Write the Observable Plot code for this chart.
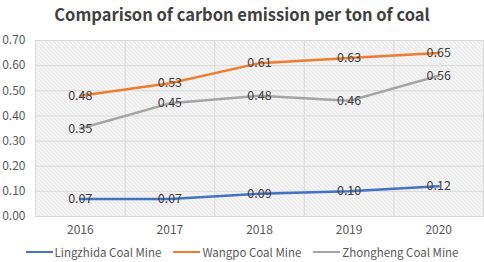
<!DOCTYPE html>
<html><head><meta charset="utf-8">
<script src="https://cdn.jsdelivr.net/npm/d3@7"></script>
<script src="https://cdn.jsdelivr.net/npm/@observablehq/plot@0.6"></script>
<style>
body{margin:0;background:#fff;font-family:"Noto Sans CJK SC","Noto Sans",sans-serif;}
#wrap{width:484px;height:262px;position:relative;overflow:hidden;}
#title{height:28px;line-height:28px;text-align:center;font-size:16.5px;font-weight:bold;color:#404040;}
#legend{display:flex;justify-content:center;gap:12px;font-size:11.5px;color:#595959;margin-top:4px;}
.item{display:flex;align-items:center;}
.sw{width:27px;height:2.5px;margin-right:2px;}
</style></head><body>
<div id="wrap">
<div id="title">Comparison of carbon emission per ton of coal</div>
<div id="chart"></div>
<div id="legend"></div>
</div>
<script>
const years = [2016, 2017, 2018, 2019, 2020];
const seriesNames = ["Lingzhida Coal Mine", "Wangpo Coal Mine", "Zhongheng Coal Mine"];
const lingzhida = [0.07, 0.07, 0.09, 0.10, 0.12];
const wangpo = [0.48, 0.53, 0.61, 0.63, 0.65];
const zhongheng = [0.35, 0.45, 0.48, 0.46, 0.56];
const colors = ["#4472C4", "#ED7D31", "#A5A5A5"];
const yTicks = [0, 0.1, 0.2, 0.3, 0.4, 0.5, 0.6, 0.7];

const allValues = [lingzhida, wangpo, zhongheng];
const data = [];
seriesNames.forEach((s, i) => years.forEach((y, j) => data.push({series: s, year: y, value: allValues[i][j]})));
const bounds = years.map(y => y - 0.5).concat([years[years.length - 1] + 0.5]);

const plot = Plot.plot({
  width: 484, height: 212,
  marginLeft: 35, marginRight: 1, marginTop: 12, marginBottom: 24,
  style: {fontFamily: '"Noto Sans CJK SC","Noto Sans",sans-serif', fontSize: "12px", color: "#595959", background: "transparent"},
  x: {domain: [2015.5, 2020.5], ticks: years, tickFormat: d => String(d), tickSize: 0, tickPadding: 9, label: null},
  y: {domain: [0, 0.7], ticks: yTicks, tickFormat: d3.format(".2f"), tickSize: 0, tickPadding: 10, label: null},
  color: {domain: seriesNames, range: colors},
  marks: [
    Plot.frame({fill: "url(#hatch)", stroke: "#d9d9d9"}),
    Plot.ruleY(yTicks, {stroke: "#d9d9d9", strokeWidth: 1}),
    Plot.ruleX(bounds, {stroke: "#d9d9d9", strokeWidth: 1}),
    Plot.line(data, {x: "year", y: "value", z: "series", stroke: "series", strokeWidth: 2.5}),
    Plot.text(data, {x: "year", y: "value", text: d => d3.format(".2f")(d.value), fill: "#404040", fontSize: 12.5})
  ]
});
const defs = d3.create("svg:defs");
const pat = defs.append("pattern").attr("id", "hatch").attr("patternUnits", "userSpaceOnUse")
  .attr("width", 4).attr("height", 4);
pat.append("rect").attr("width", 4).attr("height", 4).attr("fill", "#f8f8f8");
pat.append("path").attr("d", "M-1,-1 L5,5 M-1,3 L1,5 M3,-1 L5,1").attr("stroke", "#d2d2d2").attr("stroke-width", 0.8);
plot.insertBefore(defs.node(), plot.firstChild);
document.getElementById("chart").appendChild(plot);

const legend = document.getElementById("legend");
seriesNames.forEach((s, i) => {
  const it = document.createElement("div"); it.className = "item";
  const sw = document.createElement("div"); sw.className = "sw"; sw.style.background = colors[i];
  const t = document.createElement("span"); t.textContent = s;
  it.appendChild(sw); it.appendChild(t); legend.appendChild(it);
});
</script>
</body></html>
